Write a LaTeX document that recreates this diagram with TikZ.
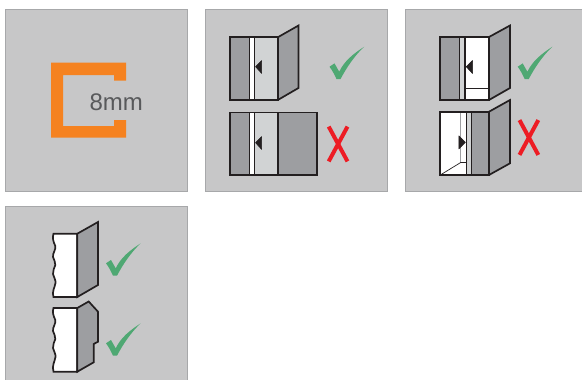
\documentclass[tikz,border=0pt]{standalone}
\usepackage{fontspec}
\setmainfont{Liberation Sans}
\definecolor{panelfill}{HTML}{C7C7C8}
\definecolor{panelline}{HTML}{A7A8AA}
\definecolor{orangec}{HTML}{F58220}
\definecolor{textc}{HTML}{58595B}
\definecolor{darkg}{HTML}{9D9EA1}
\definecolor{lightg}{HTML}{D1D3D4}
\definecolor{inkc}{HTML}{231F20}
\definecolor{greenc}{HTML}{4FA873}
\definecolor{redc}{HTML}{ED1C24}
\tikzset{
 panel/.style={fill=panelfill,draw=panelline,line width=1pt},
 ink/.style={draw=inkc,line width=1.7pt,line join=miter},
 mid ink/.style={draw=inkc,line width=1.2pt},
 thin ink/.style={draw=inkc,line width=0.7pt},
 gray ink/.style={draw=darkg,line width=1pt},
 tri/.style={fill=inkc,draw=inkc,line width=0.5pt,line join=round},
 cross/.style={draw=redc,line width=4pt},
 pics/tick/.style={code={
   \fill[greenc] (0,20) -- (5,16.7) -- (9.7,25) .. controls (15,14) and (24,7) .. (34.7,0)
     .. controls (25,9) and (17,21) .. (11,32.4) -- (7,32.4) .. controls (5,28) and (3,24) .. (0,20) -- cycle;
 }},
 pics/xmark/.style={code={
   \draw[cross] (1.2,0.6) -- (20,35.4);
   \draw[cross] (20,0.6) -- (1.2,35.4);
 }}
}
\begin{document}
\begin{tikzpicture}[x=1pt,y=-1pt]
\useasboundingbox (0,0) rectangle (582,380);
% panels
\path[panel] (5.3,9.5) rectangle (187,191);
\path[panel] (205.5,9.5) rectangle (387,191);
\path[panel] (405,9.5) rectangle (584,191);
\path[panel] (5.3,206) rectangle (187,383);
% orange profile
\fill[orangec] (51,62.5) -- (126,62.5) -- (126,80.7) -- (114,80.7) -- (114,75) -- (63,75) -- (63,126) -- (114,126) -- (114,120) -- (126,120) -- (126,137.5) -- (51,137.5) -- cycle;
\node[text=textc,font=\fontsize{24}{24}\selectfont,inner sep=0pt,anchor=center] (lbl) at (116.2,102.5) {8mm};
% panel 2 icon 1
\fill[darkg] (230,37) rectangle (249,99.7);
\fill[white] (249,37) rectangle (254.5,99.7);
\fill[lightg] (254.5,37) rectangle (278.3,99.7);
\fill[darkg] (278.3,37) -- (298.5,25.5) -- (298.5,88) -- (278.3,99.7) -- cycle;
\draw[thin ink] (249,37) -- (249,99.7);
\draw[mid ink] (254.5,37) -- (254.5,99.7);
\draw[ink] (230,37) rectangle (278.3,99.7);
\draw[ink] (278.3,37) -- (298.5,25.5) -- (298.5,88) -- (278.3,99.7);
\fill[tri] (255.5,66.7) -- (261.7,60.5) -- (261.7,73.5) -- cycle;
\pic at (329.5,46.7) {tick};
% panel 2 icon 2
\fill[darkg] (230,112.5) rectangle (249,175);
\fill[white] (249,112.5) rectangle (254.5,175);
\fill[lightg] (254.5,112.5) rectangle (278.3,175);
\fill[darkg] (278.3,112.5) rectangle (317.3,175);
\draw[thin ink] (249,112.5) -- (249,175);
\draw[mid ink] (254.5,112.5) -- (254.5,175);
\draw[ink] (278.3,112.5) -- (278.3,175);
\draw[ink] (230,112.5) rectangle (317.3,175);
\fill[tri] (255.5,142.7) -- (261.7,136.5) -- (261.7,149.5) -- cycle;
\pic at (327.5,126) {xmark};
% panel 3 icon 1
\fill[darkg] (440.3,37) rectangle (459.3,100);
\fill[lightg] (459.3,37) rectangle (465,100);
\fill[white] (465,37) rectangle (489,100);
\fill[darkg] (489,37) -- (510,25.5) -- (510,88) -- (489,100) -- cycle;
\draw[thin ink] (459.3,37) -- (459.3,100);
\draw[mid ink] (465,37) -- (465,100);
\draw[thin ink] (465,88.3) -- (489,88.3);
\draw[ink] (440.3,37) rectangle (489,100);
\draw[ink] (489,37) -- (510,25.5) -- (510,88) -- (489,100);
\fill[tri] (466.2,66.7) -- (472.5,60.5) -- (472.5,73.5) -- cycle;
\pic at (517.7,46.7) {tick};
% panel 3 icon 2
\fill[white] (440.3,111.7) rectangle (489,175);
\fill[lightg] (466.3,111.7) rectangle (471.7,175);
\fill[darkg] (471.7,111.7) rectangle (489,175);
\fill[darkg] (489,111.7) -- (510,100) -- (510,163.3) -- (489,175) -- cycle;
\draw[gray ink] (460.7,111.7) -- (460.7,162.5);
\draw[thin ink] (440.3,175) -- (460.7,162.5) -- (466.3,162.5);
\draw[mid ink] (466.3,111.7) -- (466.3,175);
\draw[mid ink] (471.7,111.7) -- (471.7,175);
\draw[ink] (440.3,111.7) rectangle (489,175);
\draw[ink] (489,111.7) -- (510,100) -- (510,163.3) -- (489,175);
\fill[tri] (465.4,142.3) -- (458.8,135.8) -- (458.8,149) -- cycle;
\pic at (518.3,119.5) {xmark};
% panel 4 icon 1
\fill[white,draw=inkc,line width=1.7pt] (77.3,233.7) -- (53.5,233.7)
  .. controls (52,238) and (53.5,242) .. (55.3,246)
  .. controls (56,250) and (52.5,253) .. (53,257)
  .. controls (53.5,260) and (56,262) .. (55.3,265)
  .. controls (54.5,268) and (52.5,271) .. (53,274)
  .. controls (53.5,277) and (56,280) .. (55.5,283)
  .. controls (55,287) and (51.5,292) .. (53.5,297)
  -- (77.3,297) -- cycle;
\fill[darkg,draw=inkc,line width=1.7pt] (77.3,233.7) -- (98,222) -- (98,285) -- (77.3,297) -- cycle;
\pic at (106,243.3) {tick};
% panel 4 icon 2
\fill[white,draw=inkc,line width=1.7pt] (77.3,308) -- (53.5,308)
  .. controls (52,312) and (53.5,316) .. (55.3,320)
  .. controls (56,324) and (52.5,327) .. (53,331)
  .. controls (53.5,334) and (56,336) .. (55.3,339)
  .. controls (54.5,342) and (52.5,345) .. (53,348)
  .. controls (53.5,351) and (56,354) .. (55.5,357)
  .. controls (55,361) and (51.5,366) .. (53.5,371.7)
  -- (77.3,371.7) -- cycle;
\fill[darkg,draw=inkc,line width=1.7pt] (77.3,308) -- (88.7,301.5) -- (98,311.7) -- (98,341.7) -- (93.7,344) -- (93.7,362.3) -- (77.3,371.7) -- cycle;
\pic at (106,323.3) {tick};
\end{tikzpicture}
\end{document}
